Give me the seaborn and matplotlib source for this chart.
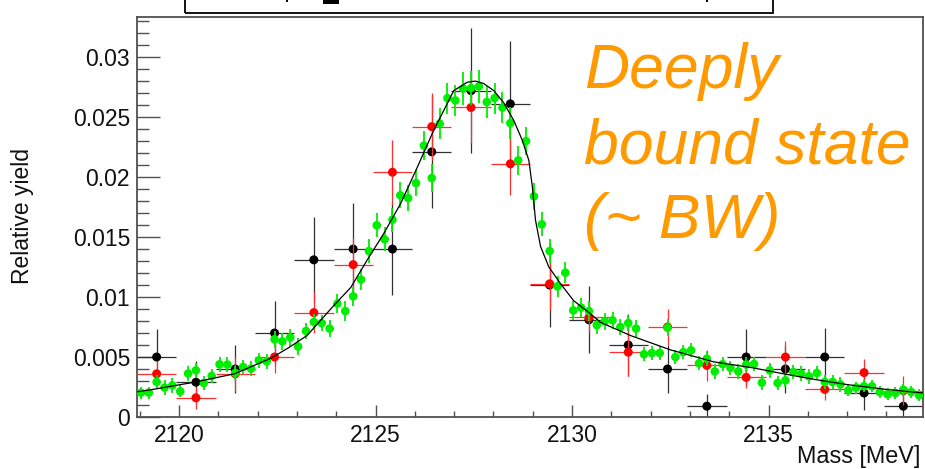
import numpy as np
import matplotlib
matplotlib.use("Agg")
import matplotlib.pyplot as plt
import seaborn as sns
from matplotlib.ticker import MultipleLocator, FuncFormatter
from matplotlib.patches import Rectangle

# Mass window of the histograms [MeV]
mass_lo, mass_hi = 2118.93, 2138.93

# Coarse (1 MeV) samples: black and red sets
black_yield = [0.0050, 0.0029, 0.0040, 0.0070, 0.0131, 0.0140, 0.0140, 0.0221, 0.0272, 0.0261,
               0.0110, 0.0081, 0.0060, 0.0040, 0.0009, 0.0050, 0.0040, 0.0050, 0.0020, 0.0009]
black_err = [0.0023, 0.0018, 0.0020, 0.0027, 0.0036, 0.0038, 0.0038, 0.0047, 0.0052, 0.0052,
             0.0035, 0.0028, 0.0026, 0.0020, 0.0010, 0.0023, 0.0020, 0.0024, 0.0014, 0.0010]
red_yield = [0.0036, 0.0016, 0.0036, 0.0050, 0.0087, 0.0127, 0.0204, 0.0242, 0.0258, 0.0211,
             0.0111, 0.0083, 0.0054, 0.0075, 0.0043, 0.0033, 0.0050, 0.0023, 0.0037, 0.0022]
red_err = [0.0011, 0.0009, 0.0014, 0.0013, 0.0017, 0.0022, 0.0027, 0.0028, 0.0030, 0.0026,
           0.0022, 0.0012, 0.0020, 0.0015, 0.0013, 0.0009, 0.0013, 0.0009, 0.0011, 0.0012]

# Fine (0.2 MeV) samples: green set
green_yield = [
    0.00203, 0.00203, 0.00292, 0.00245, 0.00264, 0.00214, 0.00362, 0.00389, 0.00283, 0.00342,
    0.00439, 0.00437, 0.00367, 0.00417, 0.00403, 0.00472, 0.00464, 0.00648, 0.00630, 0.00664,
    0.00587, 0.00717, 0.00792, 0.00783, 0.00737, 0.00945, 0.00883, 0.01006, 0.01145, 0.01383,
    0.01598, 0.01481, 0.01645, 0.01848, 0.01825, 0.01950, 0.02262, 0.01992, 0.02445, 0.02658,
    0.02639, 0.02737, 0.02742, 0.02756, 0.02625, 0.02658, 0.02578, 0.02450, 0.02139, 0.02300,
    0.01839, 0.01606, 0.01383, 0.01089, 0.01203, 0.00889, 0.00912, 0.00883, 0.00766, 0.00797,
    0.00806, 0.00750, 0.00783, 0.00737, 0.00523, 0.00533, 0.00533, 0.00745, 0.00500, 0.00540,
    0.00556, 0.00448, 0.00486, 0.00380, 0.00440, 0.00410, 0.00380, 0.00437, 0.00442, 0.00286,
    0.00389, 0.00283, 0.00306, 0.00375, 0.00361, 0.00339, 0.00367, 0.00292, 0.00292, 0.00272,
    0.00222, 0.00245, 0.00256, 0.00256, 0.00208, 0.00189, 0.00200, 0.00228, 0.00208, 0.00181]
green_err = [
    0.0005, 0.0005, 0.0006, 0.0006, 0.0006, 0.0005, 0.0006, 0.0006, 0.0006, 0.0006,
    0.0006, 0.0006, 0.0006, 0.0006, 0.0006, 0.0006, 0.0006, 0.0007, 0.0007, 0.0007,
    0.0007, 0.0007, 0.0007, 0.0007, 0.0007, 0.0008, 0.0008, 0.0008, 0.0009, 0.0010,
    0.0010, 0.0010, 0.0010, 0.0011, 0.0011, 0.0011, 0.0012, 0.0012, 0.0013, 0.0013,
    0.0013, 0.0014, 0.0014, 0.0014, 0.0013, 0.0013, 0.0013, 0.0013, 0.0012, 0.0012,
    0.0011, 0.0010, 0.0010, 0.0009, 0.0009, 0.0008, 0.0008, 0.0008, 0.0007, 0.0007,
    0.0007, 0.0007, 0.0007, 0.0007, 0.0006, 0.0006, 0.0006, 0.0007, 0.0006, 0.0006,
    0.0006, 0.0006, 0.0006, 0.0006, 0.0006, 0.0006, 0.0006, 0.0006, 0.0006, 0.0006,
    0.0006, 0.0006, 0.0006, 0.0006, 0.0006, 0.0006, 0.0006, 0.0006, 0.0006, 0.0006,
    0.0005, 0.0005, 0.0005, 0.0005, 0.0005, 0.0005, 0.0005, 0.0005, 0.0005, 0.0005]

# Fitted line shape
fit_mass = [2118.93, 2119.30, 2120.39, 2121.41, 2122.34, 2122.80, 2123.26, 2123.94, 2124.37,
            2124.79, 2125.21, 2125.64, 2126.06, 2126.48, 2126.82, 2126.99, 2127.33, 2127.54,
            2127.75, 2128.01, 2128.26, 2128.52, 2128.73, 2128.90, 2128.99, 2129.07, 2129.20,
            2129.41, 2129.71, 2130.04, 2130.47, 2130.72, 2131.48, 2132.50, 2133.60, 2134.60,
            2135.38, 2136.23, 2137.00, 2138.00, 2138.93]
fit_yield = [0.0021, 0.00228, 0.0029, 0.0036, 0.0049, 0.0058, 0.0068, 0.0093, 0.0108,
             0.0131, 0.0153, 0.0178, 0.0208, 0.0239, 0.0261, 0.0272, 0.0279, 0.0280,
             0.0278, 0.0272, 0.0262, 0.0247, 0.0231, 0.0214, 0.0192, 0.0164, 0.0142,
             0.0125, 0.0111, 0.0097, 0.0086, 0.0079, 0.0068, 0.0056, 0.0046, 0.0041,
             0.0036, 0.0031, 0.0027, 0.0023, 0.0020]

coarse_edges = np.linspace(mass_lo, mass_hi, len(black_yield) + 1)
coarse_mass = 0.5 * (coarse_edges[:-1] + coarse_edges[1:])
coarse_half = 0.5 * np.diff(coarse_edges)
fine_edges = np.linspace(mass_lo, mass_hi, len(green_yield) + 1)
fine_mass = 0.5 * (fine_edges[:-1] + fine_edges[1:])
fine_half = 0.5 * np.diff(fine_edges)

sns.set_theme(style="ticks")
plt.rcParams['font.family'] = ['Liberation Sans', 'DejaVu Sans']

W, H = 925, 469
fig = plt.figure(figsize=(W / 100, H / 100), dpi=100)
ax = fig.add_axes([137 / W, 1 - 417 / H, (923 - 137) / W, (417 - 17.5) / H])


def draw_set(x, y, xerr, yerr, marker_color, bar_color, bar_width, size, z):
    ax.errorbar(x, y, xerr=xerr, yerr=yerr, fmt='none', ecolor=bar_color,
                elinewidth=bar_width, capsize=0, zorder=z)
    sns.scatterplot(x=x, y=y, color=marker_color, s=size, edgecolor='none',
                    linewidth=0, legend=False, zorder=z + 0.5, ax=ax)


draw_set(coarse_mass, black_yield, coarse_half, black_err, 'black', '#303030', 0.9, 42, 2)
draw_set(coarse_mass, red_yield, coarse_half, red_err, '#ff0000', '#ff3030', 0.9, 42, 3)
draw_set(fine_mass, green_yield, fine_half, green_err, '#00ee00', '#00ee00', 1.3, 38, 4)
sns.lineplot(x=fit_mass, y=fit_yield, color='black', linewidth=0.9, ax=ax, zorder=6)

ax.set_xlim(mass_lo, mass_hi)
ax.set_ylim(0, 0.0333)
ax.set_xlabel('')
ax.set_ylabel('')

ax.xaxis.set_major_locator(MultipleLocator(5))
ax.xaxis.set_minor_locator(MultipleLocator(1))
ax.yaxis.set_major_locator(MultipleLocator(0.005))
ax.yaxis.set_minor_locator(MultipleLocator(0.001))
ax.yaxis.set_major_formatter(FuncFormatter(lambda v, p: f"{v:g}"))
ax.xaxis.set_major_formatter(FuncFormatter(lambda v, p: f"{v:g}"))

frame_color = '#505050'
ax.tick_params(axis='y', which='major', direction='in', length=16.5, width=1,
               color=frame_color, labelsize=16.5, pad=5, labelcolor='#111111')
ax.tick_params(axis='y', which='minor', direction='in', length=8.5, width=1, color=frame_color)
ax.tick_params(axis='x', which='major', direction='in', length=8.6, width=1,
               color=frame_color, labelsize=16.5, pad=5, labelcolor='#111111')
ax.tick_params(axis='x', which='minor', direction='in', length=4.3, width=1, color=frame_color)
ax.tick_params(top=False, right=False, which='both')
for side in ['left', 'right', 'top', 'bottom']:
    ax.spines[side].set_visible(True)
    ax.spines[side].set_color(frame_color)
    ax.spines[side].set_linewidth(1.3)

fig.text(22 / W, 1 - 216 / H, 'Relative yield', rotation=90, ha='center', va='center',
         fontsize=16.5, color='#111111')
fig.text(920 / W, 1 - 463 / H, 'Mass [MeV]', ha='right', va='baseline',
         fontsize=16.8, color='#111111')

orange = '#ff9900'
for line, base in [('Deeply', 88), ('bound state', 163), ('(~ BW)', 238)]:
    fig.text(584 / W, 1 - base / H, line, ha='left', va='baseline', fontsize=45,
             style='italic', color=orange)

# Title pad box at the top edge, mostly outside the canvas
fig.patches.append(Rectangle((185 / W, 1 - 13 / H), (773 - 185) / W, 20 / H,
                             transform=fig.transFigure, fill=False, ec='black', lw=1.3))
for x0, w, h in [(286, 1.5, 2), (323, 16, 4), (706, 1.5, 2)]:
    fig.patches.append(Rectangle((x0 / W, 1 - h / H), w / W, h / H,
                                 transform=fig.transFigure, fc='black', ec='none'))

fig.savefig('out.png', dpi=100)
